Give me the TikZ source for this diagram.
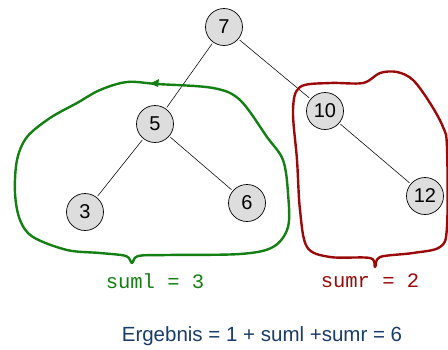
\documentclass[tikz,border=0pt]{standalone}
\usepackage{fontspec}
\setmainfont{Liberation Sans}
\newfontfamily\monof{Liberation Mono}
\definecolor{loopgreen}{RGB}{20,128,20}
\definecolor{loopred}{RGB}{155,10,10}
\definecolor{nodegray}{RGB}{221,221,221}
\definecolor{textblue}{RGB}{25,60,105}
\begin{document}
\begin{tikzpicture}[x=1pt,y=-1pt,
  tnode/.style={circle,draw=black,line width=0.7pt,fill=nodegray,minimum size=37pt,inner sep=0pt,font=\fontsize{20}{20}\selectfont},
  edge/.style={draw=black,line width=0.55pt,shorten <=1.5pt,shorten >=1.5pt},
  loop/.style={line width=2.4pt,line join=round,line cap=round},
  sumlabel/.style={font=\monof\fontsize{20.5}{20.5}\selectfont}]
\useasboundingbox (0,0) rectangle (448,349);
\node[tnode] (n7) at (224,27) {7};
\node[tnode] (n5) at (155,124) {5};
\node[tnode] (n3) at (85,212) {3};
\node[tnode] (n6) at (247,203) {6};
\node[tnode] (n10) at (325,111) {10};
\node[tnode] (n12) at (425,196) {12};
\draw[edge] (n7) -- (n5);
\draw[edge] (n7) -- (n10);
\draw[edge] (n5) -- (n3);
\draw[edge] (n5) -- (n6);
\draw[edge] (n10) -- (n12);
% green loop
\draw[loop,draw=loopgreen] plot[smooth cycle,tension=0.55] coordinates {
  (157,84) (127,82) (100,90) (77,103) (50,118) (27,137) (17,160) (15,193)
  (20,220) (33,237) (67,250) (100,253) (126,256) (132,263) (138,256)
  (167,255) (240,254) (273,247) (288,227) (288,193) (283,160) (267,137)
  (240,100) (213,88)};
\fill[loopgreen] (150,83.5) -- (159,79) -- (158,87) -- cycle;
% red loop
\draw[loop,draw=loopred] plot[smooth cycle,tension=0.55] coordinates {
  (363,83) (380,73) (397,72) (413,80) (430,103) (443,127) (447,147)
  (447,227) (440,247) (413,253) (380,257) (375,267) (370,258) (330,257)
  (307,247) (300,210) (297,160) (293,110) (300,87) (330,83)};
\node[sumlabel,text=loopgreen] (suml) at (155,281) {suml = 3};
\node[sumlabel,text=loopred] (sumr) at (370,281) {sumr = 2};
\node[text=textblue,font=\fontsize{20.5}{20.5}\selectfont] (erg) at (262,336) {Ergebnis = 1 + suml +sumr = 6};
\end{tikzpicture}
\end{document}
